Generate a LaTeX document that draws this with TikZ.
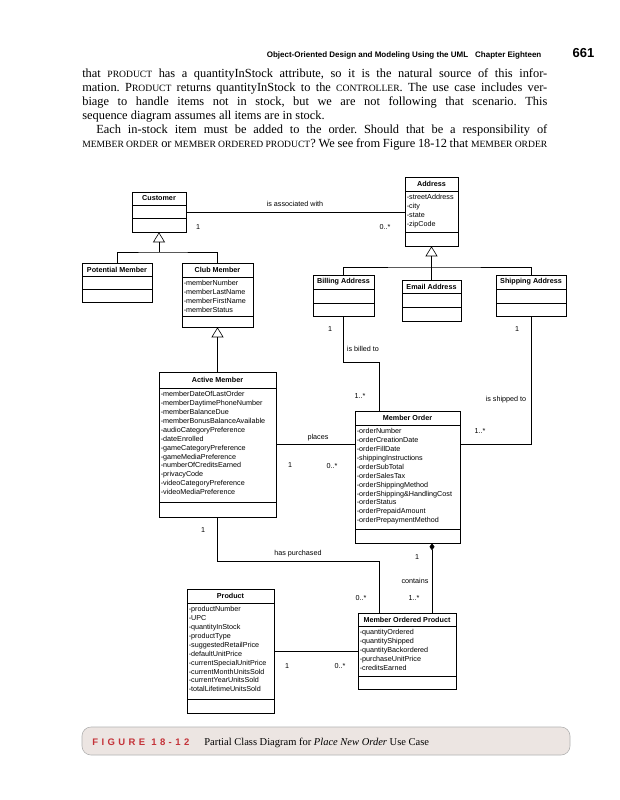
\documentclass[tikz,border=0pt]{standalone}
\usepackage{fontspec}
\setmainfont{Liberation Serif}
\setsansfont{Liberation Sans}
\newfontfamily\capfont[LetterSpace=36]{Liberation Sans}
\usetikzlibrary{arrows.meta,calc,positioning,fit}

\definecolor{capred}{RGB}{196,50,56}
\definecolor{capfill}{RGB}{236,229,226}

\newcommand{\umlfont}{\fontsize{7.2}{8.9}\selectfont\sffamily}
\newcommand{\scap}[1]{{\fontsize{9.6}{10}\selectfont #1}}
% classe: nome, sinistra, alto, destra, sep1, sep2, basso, titolo, attributi
\newcommand{\classe}[9]{%
  \coordinate (#1-a) at (#2,#3);
  \coordinate (#1-b) at (#4,#7);
  \node[classbox, fit=(#1-a)(#1-b)] (#1) {};
  \draw (#2,#5) -- (#4,#5) (#2,#6) -- (#4,#6);
  \node[classtitle] (#1-t) at ({(#2+#4)/2},{(#3+#5)/2}) {#8};
  \node[classattr] (#1-x) at (#2+1.5,#5+3.2) {#9};
}

\begin{document}
\begin{tikzpicture}[x=1pt, y=-1pt, >=latex, font=\umlfont, line width=0.6pt,
    classbox/.style={draw, inner sep=0pt},
    classtitle/.style={inner sep=0pt, font=\umlfont\bfseries},
    classattr/.style={anchor=north west, align=left, inner sep=0pt},
    lab/.style={inner sep=1pt},
    gen/.style={-{Triangle[open, length=10pt, width=12pt]}},
    comp/.style={{Diamond[length=7pt, width=5pt]}-}]
    \useasboundingbox (0,0) rectangle (619,800);
    \fill[white] (0,0) rectangle (619,800);

    % Testata e testo della pagina
    \node[anchor=base east, font=\fontsize{8}{9}\selectfont\sffamily\bfseries] (testata) at (545,58)
        {Object-Oriented Design and Modeling Using the UML\hspace{7pt}Chapter Eighteen};
    \node[anchor=base east, font=\fontsize{13}{14}\selectfont\sffamily\bfseries] (pagina) at (598,58) {661};
    \node[anchor=north west, text width=465pt, inner sep=0pt, align=justify,
          font=\fontsize{12.4}{14}\selectfont\rmfamily] (testo) at (82,68)
        {\frenchspacing\tolerance=9999\hyphenpenalty=10000
         that \scap{PRODUCT} has a quantityInStock attribute, so it is the natural source of this infor-\linebreak
         mation. P\scap{RODUCT} returns quantityInStock to the \scap{CONTROLLER}. The use case includes ver-\linebreak
         biage to handle items not in stock, but we are not following that scenario. This\linebreak
         sequence diagram assumes all items are in stock.\par
         \hspace*{14pt}Each in-stock item must be added to the order. Should that be a responsibility of\linebreak
         \scap{MEMBER ORDER} or \scap{MEMBER ORDERED PRODUCT}? We see from Figure 18-12 that \scap{MEMBER ORDER}\parfillskip=0pt\par};

    % Classi
    \classe{customer}{132}{192}{186}{205}{218}{232}{Customer}{}
    \classe{potential}{82}{263}{152}{276}{289}{302}{Potential Member}{}
    \classe{club}{182}{263}{253}{277}{316}{327}{Club Member}
        {-memberNumber\\-memberLastName\\-memberFirstName\\-memberStatus}
    \classe{active}{159}{372}{276}{388}{502}{517}{Active Member}
        {-memberDateOfLastOrder\\-memberDaytimePhoneNumber\\-memberBalanceDue\\-memberBonusBalanceAvailable\\
         -audioCategoryPreference\\-dateEnrolled\\-gameCategoryPreference\\-gameMediaPreference\\
         -numberOfCreditsEarned\\-privacyCode\\-videoCategoryPreference\\-videoMediaPreference}
    \classe{address}{405}{177}{458}{191}{232}{246}{Address}
        {-streetAddress\\-city\\-state\\-zipCode}
    \classe{billing}{313}{275}{374}{289}{303}{316}{Billing Address}{}
    \classe{email}{402}{280}{461}{293}{307}{321}{Email Address}{}
    \classe{shipping}{496}{275}{566}{289}{303}{316}{Shipping Address}{}
    \classe{order}{355}{411}{460}{425}{529}{543}{Member Order}
        {-orderNumber\\-orderCreationDate\\-orderFillDate\\-shippingInstructions\\-orderSubTotal\\
         -orderSalesTax\\-orderShippingMethod\\-orderShipping\&HandlingCost\\-orderStatus\\
         -orderPrepaidAmount\\-orderPrepaymentMethod}
    \classe{mop}{358}{613}{456}{626}{676}{689}{Member Ordered Product}
        {-quantityOrdered\\-quantityShipped\\-quantityBackordered\\-purchaseUnitPrice\\-creditsEarned}
    \classe{product}{187}{589}{274}{603}{699}{713}{Product}
        {-productNumber\\-UPC\\-quantityInStock\\-productType\\-suggestedRetailPrice\\-defaultUnitPrice\\
         -currentSpecialUnitPrice\\-currentMonthUnitsSold\\-currentYearUnitsSold\\-totalLifetimeUnitsSold}

    % Generalizzazioni
    \coordinate (gcust) at (customer.south |- 0,252);
    \draw (potential.north) |- (gcust) -| (club.north);
    \draw[gen] (gcust) -- (customer.south);
    \draw[gen] (club.south |- active.north) -- (club.south);
    \coordinate (gaddr) at (address.south |- 0,267);
    \draw (billing.north) |- (gaddr) -| (shipping.north);
    \draw[gen] (email.north) -- (address.south);

    % Associazioni
    \draw (customer.east) -- (customer.east -| address.west);
    \coordinate (bill) at (379,362);
    \draw (billing.south) |- (bill) -- (bill |- order.north);
    \draw (shipping.south) |- (order.east |- 0,444);
    \draw (active.east |- 0,444) -- (order.west |- 0,444);
    \coordinate (purch) at (379,561);
    \draw (active.south) |- (purch) -- (purch |- mop.north);
    \draw[comp] (order.south -| 432,0) -- (mop.north -| 432,0);
    \draw (product.east |- 0,651) -- (mop.west |- 0,651);

    % Etichette e molteplicita
    \node[lab] (l1) at (295,204) {is associated with};
    \node[lab] (l2) at (198,227) {1};
    \node[lab] (l3) at (385,227) {0..*};
    \node[lab] (l4) at (330,329) {1};
    \node[lab] (l5) at (363,349) {is billed to};
    \node[lab] (l6) at (517,329) {1};
    \node[lab] (l7) at (360,396) {1..*};
    \node[lab] (l8) at (506,400) {is shipped to};
    \node[lab] (l9) at (480,431) {1..*};
    \node[lab] (l10) at (318,438) {places};
    \node[lab] (l11) at (290,465) {1};
    \node[lab] (l12) at (332,466) {0..*};
    \node[lab] (l13) at (203,530) {1};
    \node[lab] (l14) at (298,554) {has purchased};
    \node[lab] (l15) at (417,557) {1};
    \node[lab] (l16) at (415,581) {contains};
    \node[lab] (l17) at (361,598) {0..*};
    \node[lab] (l18) at (414,598) {1..*};
    \node[lab] (l19) at (287,666) {1};
    \node[lab] (l20) at (340,666) {0..*};

    % Didascalia
    \draw[gray!60, fill=capfill, rounded corners=9pt] (82,727) rectangle (570,755);
    \node[anchor=base west, inner sep=0pt, font=\fontsize{9.5}{11}\selectfont\capfont\bfseries, text=capred] (fig) at (92,745) {FIGURE 18-12};
    \node[anchor=base west, inner sep=0pt, font=\fontsize{10.5}{12}\selectfont\rmfamily] (didascalia) at (204,745)
        {Partial Class Diagram for \textit{Place New Order} Use Case};
\end{tikzpicture}
\end{document}
